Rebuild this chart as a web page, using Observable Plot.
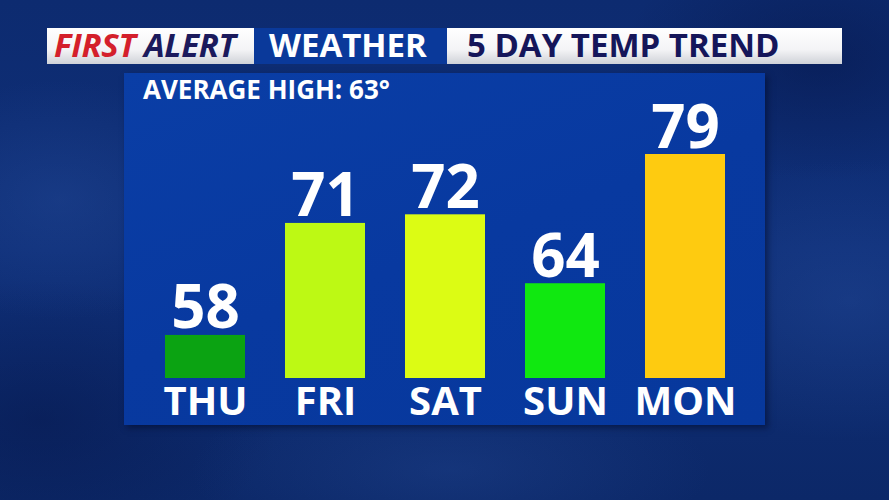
<!DOCTYPE html>
<html>
<head>
<meta charset="utf-8">
<script src="https://cdn.jsdelivr.net/npm/d3@7"></script>
<script src="https://cdn.jsdelivr.net/npm/@observablehq/plot@0.6"></script>
<style>
  html, body { margin: 0; padding: 0; }
  body { width: 889px; height: 500px; overflow: hidden; font-family: "Open Sans", "DejaVu Sans", sans-serif; }
  #stage {
    position: relative; width: 889px; height: 500px; overflow: hidden;
    background:
      radial-gradient(ellipse 180px 120px at 60px 200px, rgba(40,80,160,0.35), transparent),
      radial-gradient(ellipse 220px 140px at 850px 300px, rgba(40,80,160,0.35), transparent),
      radial-gradient(ellipse 260px 90px at 450px 470px, rgba(40,80,160,0.30), transparent),
      radial-gradient(ellipse 200px 120px at 820px 60px, rgba(5,20,70,0.5), transparent),
      radial-gradient(ellipse 240px 140px at 40px 420px, rgba(5,20,70,0.45), transparent),
      linear-gradient(180deg, #0d2b70 0%, #0f2f78 50%, #0c2868 100%);
  }
  .hdr { position: absolute; top: 28px; height: 36px; box-sizing: border-box; white-space: nowrap; font-weight: 700; }
  .hdr span.t { position: absolute; top: -6px; line-height: 46px; }
  .white { background: linear-gradient(180deg, #ffffff 0%, #f4f4f6 60%, #cfd2d8 100%); }
  #h1 { left: 47px; width: 207px; font-style: italic; font-size: 33px; letter-spacing: -0.3px; }
  #h1 span.t { left: 7px; }
  #h1 .r { color: #d41f2b; }
  #h1 .n { color: #1b1a5c; }
  #h2 { left: 254px; width: 193px; background: #0a399a; color: #fff; font-size: 33px; }
  #h2 span.t { left: 15px; }
  #h3 { left: 447px; width: 395px; color: #15165a; font-size: 33px; }
  #h3 span.t { left: 20px; }
  #panel { position: absolute; left: 124px; top: 73px; width: 641px; height: 352px;
           background: linear-gradient(160deg, #0a3ea6 0%, #0839a0 50%, #07389c 100%);
           box-shadow: 3px 3px 6px rgba(0,10,40,0.5); }
  #avg { position: absolute; left: 143px; top: 72px; color: #fff; font-weight: 700; font-size: 26px; line-height: 34px; }
  #chart { position: absolute; left: 124px; top: 73px; }
</style>
</head>
<body>
<div id="stage">
  <div class="hdr white" id="h1"><span class="t"><span class="r">FIRST</span> <span class="n">ALERT</span></span></div>
  <div class="hdr" id="h2"><span class="t">WEATHER</span></div>
  <div class="hdr white" id="h3"><span class="t">5 DAY TEMP TREND</span></div>
  <div id="panel"></div>
  <div id="avg">AVERAGE HIGH: 63°</div>
  <div id="chart"></div>
</div>
<script>
const days = ["THU", "FRI", "SAT", "SUN", "MON"];
const temps = [58, 71, 72, 64, 79];
const barColors = ["#0ba312", "#bdf914", "#dcfc14", "#10e810", "#fecb10"];
const yDomain = [53, 79];

const data = days.map((d, i) => ({day: d, temp: temps[i], color: barColors[i]}));

const chart = Plot.plot({
  width: 641,
  height: 352,
  marginTop: 81,
  marginBottom: 47,
  marginLeft: 0,
  marginRight: 0,
  style: {background: "transparent", fontFamily: "'Open Sans', sans-serif", overflow: "visible"},
  x: {domain: days, padding: 1/3, axis: null},
  y: {domain: yDomain, axis: null},
  marks: [
    Plot.barY(data, {x: "day", y1: yDomain[0], y2: "temp", fill: "color"}),
    Plot.text(data, {x: "day", y: "temp", text: d => String(d.temp), fill: "white",
      fontSize: 60, fontWeight: 700, lineAnchor: "bottom", dy: -7}),
    Plot.text(data, {x: "day", frameAnchor: "bottom", text: "day", fill: "white",
      fontSize: 40, fontWeight: 700, lineAnchor: "bottom", dy: 36})
  ]
});
document.getElementById("chart").appendChild(chart);
</script>
</body>
</html>
